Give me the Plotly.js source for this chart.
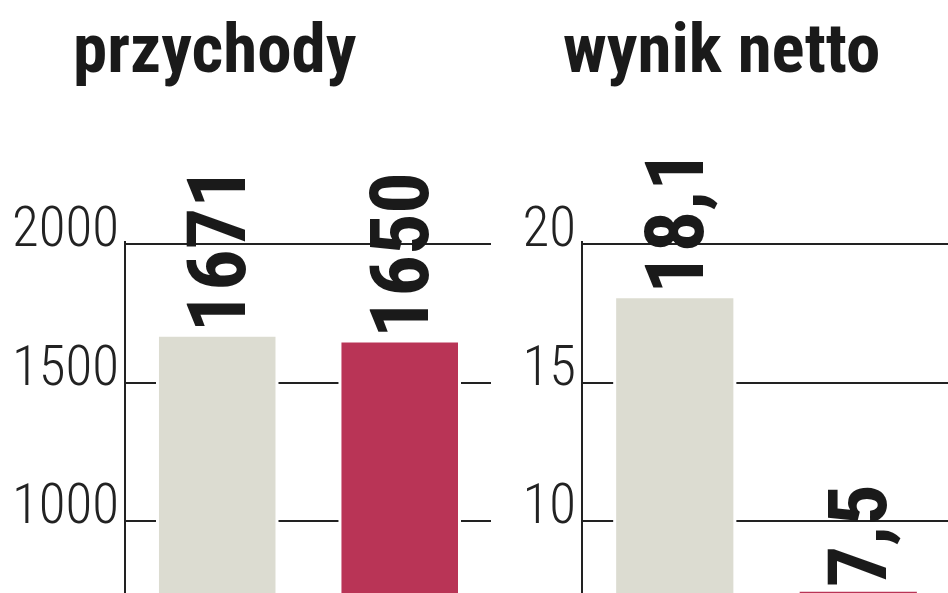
<!DOCTYPE html>
<html>
<head>
<meta charset="utf-8">
<script src="https://cdn.plot.ly/plotly-3.0.1.min.js"></script>
<style>
  html, body { margin: 0; padding: 0; background: #ffffff; }
  #chart { width: 948px; height: 593px; }
</style>
</head>
<body>
<div id="chart"></div>
<script>
// Dane
const kategorie = ['poprzednio', 'obecnie'];
const przychody = [1671, 1650];
const wynikNetto = [18.1, 7.5];
const etykietyPrzychody = ['1671', '1650'];
const etykietyWynik = ['18,1', '7,5'];
const kolory = ['#dcdcd1', '#b93456'];

const ticksPrzychody = [1000, 1500, 2000];
const ticksWynik = [10, 15, 20];

/**********************************************************************************************/
// WSPOLNE USTAWIENIA
const czcionka = "'Roboto Condensed', 'DejaVu Sans Condensed', sans-serif";
const kolorLinii = '#222222';

function slupki(values, labels, xa, ya) {
    return {
        type: 'bar',
        x: kategorie,
        y: values,
        xaxis: xa,
        yaxis: ya,
        width: 0.655,
        text: labels,
        textposition: 'outside',
        textangle: -90,
        cliponaxis: false,
        constraintext: 'none',
        textfont: { family: czcionka, size: 82, color: '#1a1a1a', weight: 'bold' },
        marker: { color: kolory, line: { color: '#ffffff', width: 3 } },
        hoverinfo: 'skip'
    };
}

// zakres lekko ponad 2000 / 20, zeby gorna linia siatki byla rysowana
function osY(range, ticks, domainX) {
    return {
        range: range,
        domain: [0, 0.5941],
        anchor: domainX,
        tickvals: ticks,
        ticktext: ticks.map(String),
        showgrid: true,
        gridcolor: kolorLinii,
        gridwidth: 2,
        zeroline: false,
        showline: true,
        linecolor: kolorLinii,
        linewidth: 2,
        ticks: '',
        ticklabelstandoff: -6,
        ticklabelshift: -17,
        tickfont: { family: czcionka, size: 55, color: kolorLinii, weight: 300 },
        fixedrange: true
    };
}

function osX(domain, range, ya) {
    return {
        domain: domain,
        range: range,
        anchor: ya,
        showgrid: false,
        showline: false,
        zeroline: false,
        showticklabels: false,
        ticks: '',
        fixedrange: true
    };
}

const dane = [
    slupki(przychody, etykietyPrzychody, 'x', 'y'),
    slupki(wynikNetto, etykietyWynik, 'x2', 'y2')
];

const layout = {
    width: 948,
    height: 593,
    margin: { t: 0, r: 0, b: 0, l: 0 },
    paper_bgcolor: '#ffffff',
    plot_bgcolor: 'rgba(0,0,0,0)',
    showlegend: false,
    bargap: 0,
    xaxis: osX([0.1329, 0.5179], [-0.5, 1.5], 'y'),
    yaxis: osY([740, 2012], ticksPrzychody, 'x'),
    xaxis2: osX([0.615, 1], [-0.5, 1.489], 'y2'),
    yaxis2: osY([7.4, 20.12], ticksWynik, 'x2'),
    annotations: [
        {
            text: 'przychody', xref: 'paper', yref: 'paper',
            x: 0.2268, y: 0.918, xanchor: 'center', yanchor: 'middle', showarrow: false,
            font: { family: czcionka, size: 69, color: '#1a1a1a', weight: 'bold' }
        },
        {
            text: 'wynik netto', xref: 'paper', yref: 'paper',
            x: 0.7616, y: 0.918, xanchor: 'center', yanchor: 'middle', showarrow: false,
            font: { family: czcionka, size: 69, color: '#1a1a1a', weight: 'bold' }
        }
    ]
};

Plotly.newPlot('chart', dane, layout, { staticPlot: true, displayModeBar: false });
</script>
</body>
</html>
